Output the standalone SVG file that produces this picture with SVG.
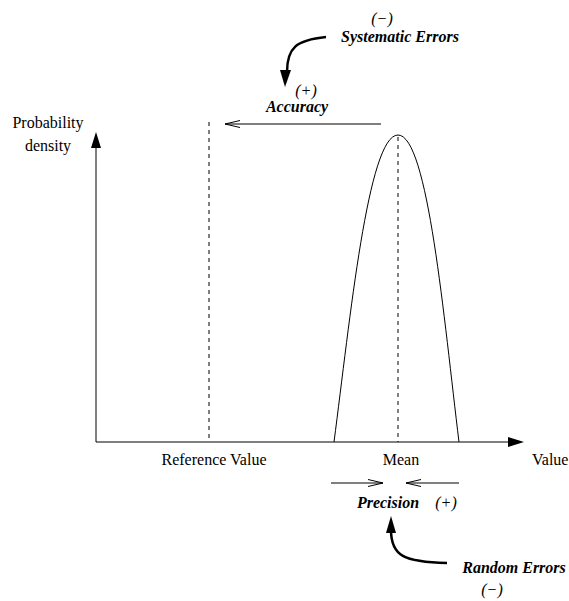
<svg xmlns="http://www.w3.org/2000/svg" width="569" height="601" viewBox="0 0 569 601">
  <style>
    .line { stroke: #000; stroke-width: 1; fill: none; }
    .dash { stroke: #000; stroke-width: 1; fill: none; stroke-dasharray: 4 4; }
    .thick { stroke: #000; stroke-width: 2.5; fill: none; }
    .head { fill: #000; stroke: none; }
    .open { stroke: #000; stroke-width: 1; fill: none; }
    text { font-family: "Liberation Serif", "Times New Roman", serif; font-size: 16px; fill: #000; }
    .bi { font-weight: bold; font-style: italic; }
    .i { font-style: italic; }
  </style>
  <rect width="569" height="601" fill="#fff"/>

  <g id="connectors">
    <!-- axes -->
    <line class="line" x1="96" y1="442" x2="96" y2="146"/>
    <polygon class="head" points="96,132 91,148 101,148"/>
    <line class="line" x1="96" y1="442" x2="510" y2="442"/>
    <polygon class="head" points="524,442 508,437 508,447"/>

    <!-- reference and mean lines -->
    <line class="dash" x1="209" y1="122" x2="209" y2="442"/>
    <line class="dash" x1="398" y1="137" x2="398" y2="442"/>

    <!-- accuracy arrow -->
    <line class="line" x1="381" y1="124" x2="225" y2="124"/>
    <polyline class="open" points="240,120.5 225,124 240,127.5"/>

    <!-- precision arrows -->
    <line class="line" x1="331" y1="483" x2="383" y2="483"/>
    <polyline class="open" points="368,479.5 383,483 368,486.5"/>
    <line class="line" x1="459" y1="483" x2="406" y2="483"/>
    <polyline class="open" points="421,479.5 406,483 421,486.5"/>

    <!-- curved cause arrows -->
    <path class="thick" d="M326,37 C296,40 287,48 287,72"/>
    <polygon class="head" points="285,87 280,70 291,70"/>
    <path class="thick" d="M391,530 C391,556 404,562 447,563"/>
    <polygon class="head" points="391,516 386,533 396,533"/>
  </g>

  <g id="distribution">
    <path class="line" d="M334,442 C350,320 368,135 398,135 C428,135 444,320 459,442"/>
  </g>

  <g id="axis-labels">
    <text x="48" y="128" text-anchor="middle">Probability</text>
    <text x="48" y="151" text-anchor="middle">density</text>
    <text x="214" y="465" text-anchor="middle">Reference Value</text>
    <text x="401" y="465" text-anchor="middle">Mean</text>
    <text x="532" y="465">Value</text>
  </g>

  <g id="systematic-errors">
    <text class="i" x="382" y="24" text-anchor="middle">(−)</text>
    <text class="bi" x="400" y="42" text-anchor="middle">Systematic Errors</text>
  </g>

  <g id="accuracy">
    <text class="i" x="306" y="96" text-anchor="middle">(+)</text>
    <text class="bi" x="297" y="112" text-anchor="middle">Accuracy</text>
  </g>

  <g id="precision">
    <text class="bi" x="388" y="508" text-anchor="middle">Precision</text>
    <text class="i" x="446" y="508" text-anchor="middle">(+)</text>
  </g>

  <g id="random-errors">
    <text class="bi" x="514" y="573" text-anchor="middle">Random Errors</text>
    <text class="i" x="492" y="595" text-anchor="middle">(−)</text>
  </g>
</svg>
